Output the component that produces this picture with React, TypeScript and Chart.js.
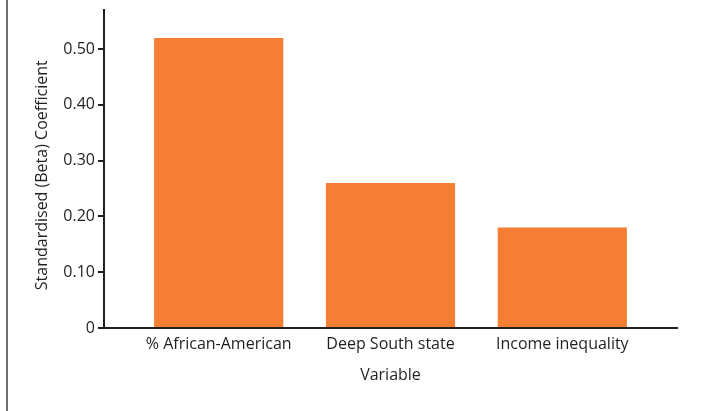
import React, { useEffect, useRef } from "react";
import { Chart, registerables } from "chart.js";

Chart.register(...registerables);

const categories = ["% African-American", "Deep South state", "Income inequality"];
const coefficients = [0.52, 0.26, 0.18];
const yTickValues = [0, 0.1, 0.2, 0.3, 0.4, 0.5];
const yAxisMax = 0.57;
const xAxisMin = -0.6675;
const xAxisMax = 2.6675;
const yAxisTitle = "Standardised (Beta) Coefficient";
const xAxisTitle = "Variable";

const FONT = "'Open Sans', 'Noto Sans', sans-serif";
const INK = "#231F20";
const ORANGE = "#F47F32";

export default function App() {
  const ref = useRef<HTMLCanvasElement | null>(null);

  useEffect(() => {
    if (!ref.current) return;
    const chart = new Chart(ref.current, {
      type: "bar",
      data: {
        datasets: [
          {
            data: categories.map((_, i) => ({ x: i, y: coefficients[i] })),
            backgroundColor: ORANGE,
            borderWidth: 0,
            categoryPercentage: 1,
            barPercentage: 0.752,
          },
        ],
      },
      options: {
        animation: false,
        responsive: false,
        maintainAspectRatio: false,
        plugins: { legend: { display: false }, tooltip: { enabled: false } },
        layout: { padding: { left: 0, top: 10, right: 29, bottom: 26 } },
        scales: {
          x: {
            type: "linear",
            offset: false,
            bounds: "data",
            min: xAxisMin,
            max: xAxisMax,
            afterDataLimits: (scale: any) => {
              scale.min = xAxisMin;
              scale.max = xAxisMax;
            },
            afterBuildTicks: (scale: any) => {
              scale.ticks = categories.map((_, i) => ({ value: i }));
            },
            afterFit: (scale: any) => {
              scale.height = 57;
              scale.paddingLeft = 0;
              scale.paddingRight = 0;
            },
            grid: { display: false, drawTicks: false },
            border: { display: true, color: INK, width: 2 },
            ticks: {
              autoSkip: false,
              maxRotation: 0,
              padding: 7,
              color: INK,
              font: { family: FONT, size: 16 },
              callback: (v: any) => categories[Math.round(Number(v))] ?? "",
            },
            title: {
              display: true,
              text: xAxisTitle,
              color: INK,
              font: { family: FONT, size: 16 },
              padding: { top: 0, bottom: 0 },
            },
          },
          y: {
            min: 0,
            max: yAxisMax,
            afterBuildTicks: (scale: any) => {
              scale.ticks = yTickValues.map((v) => ({ value: v }));
            },
            afterFit: (scale: any) => {
              scale.width = 104;
              scale.paddingTop = 0;
              scale.paddingBottom = 0;
            },
            grid: {
              drawOnChartArea: false,
              drawTicks: true,
              tickLength: 6,
              color: INK,
              tickColor: INK,
              lineWidth: 2,
            },
            border: { display: true, color: INK, width: 2 },
            ticks: {
              padding: 3,
              color: INK,
              font: { family: FONT, size: 16 },
              callback: (v: any) => (Number(v) === 0 ? "0" : Number(v).toFixed(2)),
            },
            title: {
              display: true,
              text: yAxisTitle + "\u00a0\u00a0\u00a0",
              color: INK,
              font: { family: FONT, size: 16 },
              padding: { top: 33, bottom: 0 },
            },
          },
        },
      },
    });
    return () => chart.destroy();
  }, []);

  return (
    <div
      style={{
        position: "fixed",
        left: 0,
        top: 0,
        width: 706,
        height: 411,
        background: "#ffffff",
      }}
    >
      <div
        style={{
          position: "absolute",
          left: 6,
          top: 0,
          width: 2,
          height: 411,
          background: "#6f6f6f",
        }}
      />
      <canvas
        ref={ref}
        width={706}
        height={411}
        style={{ position: "absolute", left: 0, top: 0, width: 706, height: 411 }}
      />
    </div>
  );
}
